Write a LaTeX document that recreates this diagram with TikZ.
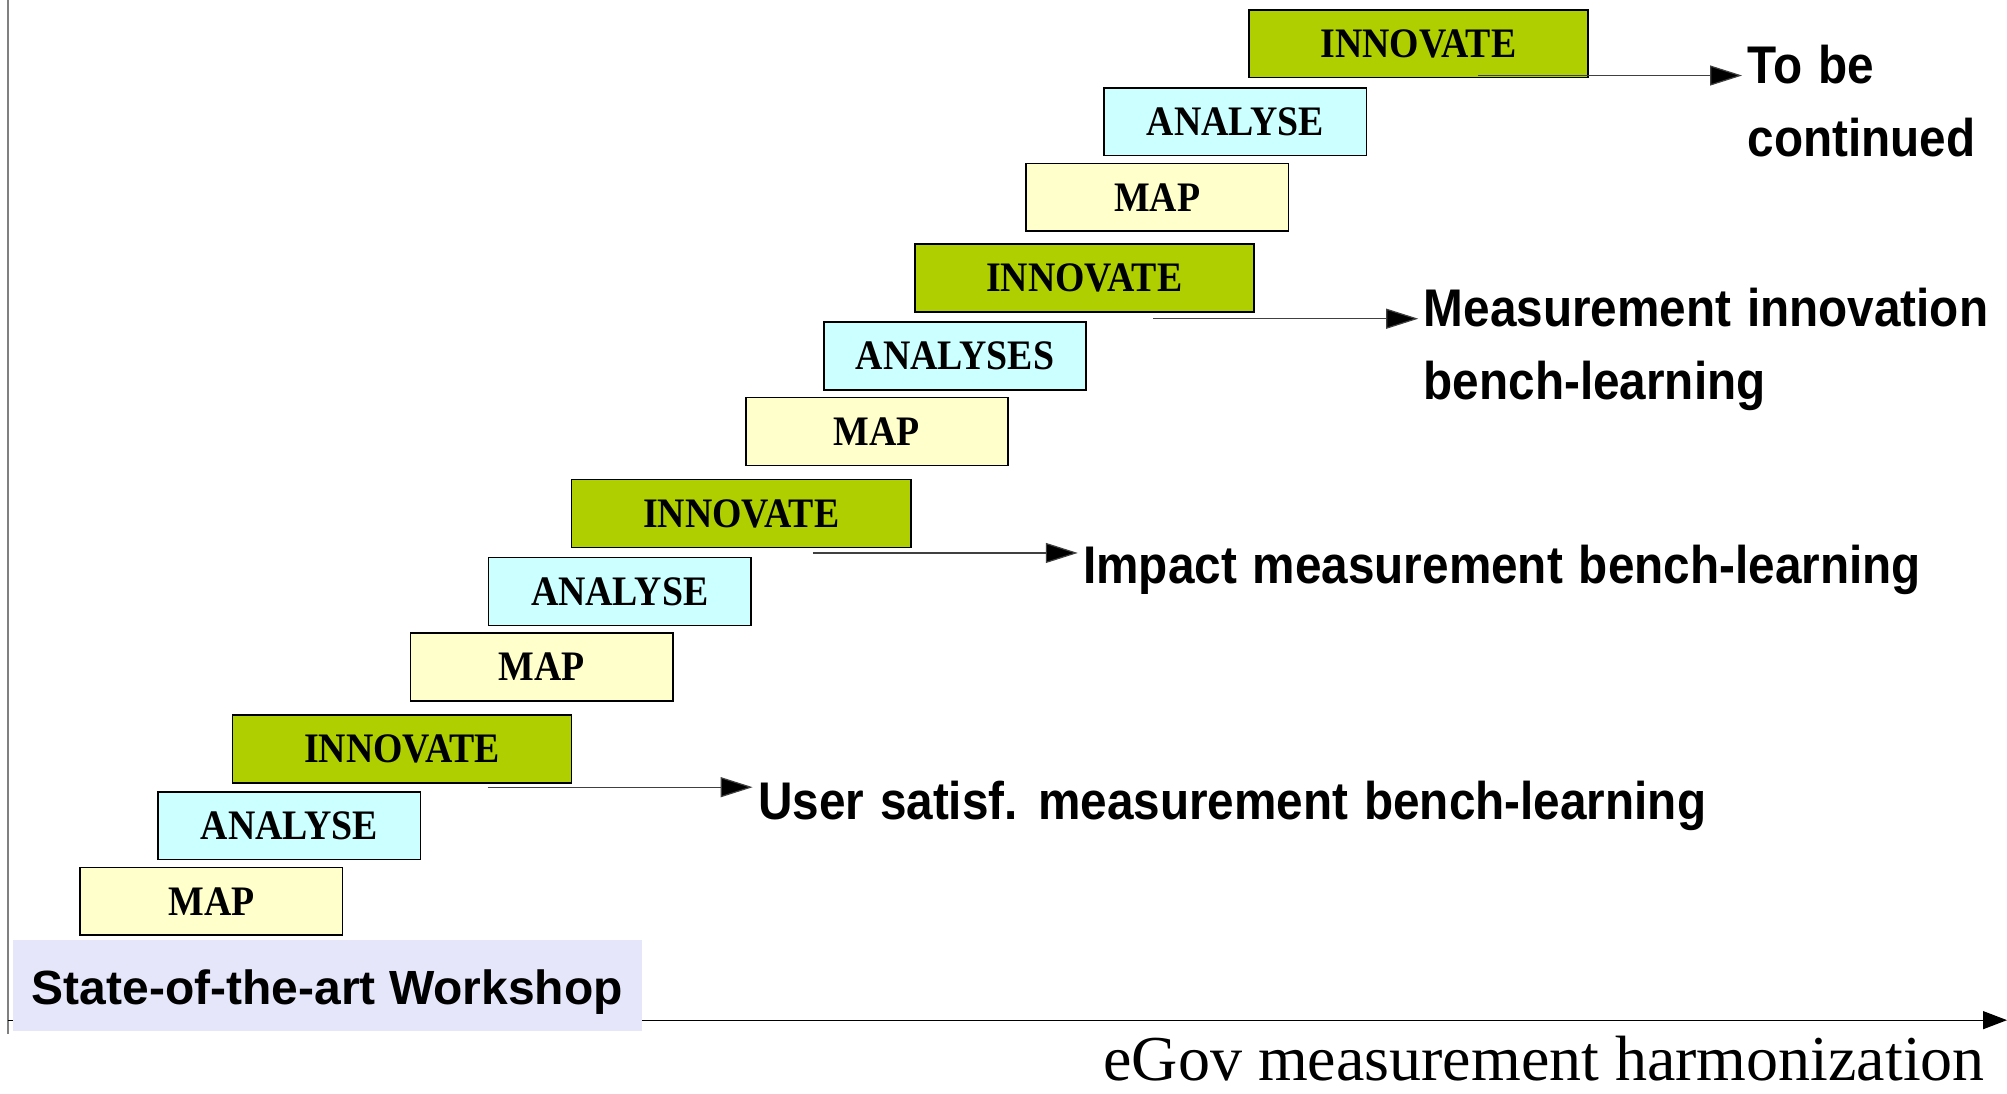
\documentclass[tikz,border=0pt]{standalone}
\usepackage{fontspec}
\setmainfont{Liberation Serif}
\setsansfont{Liberation Sans}
\newfontfamily\boxfont[FakeStretch=0.9]{Liberation Serif}
\newfontfamily\lblfont[FakeStretch=0.9,WordSpace=1.2]{Liberation Sans}
\usetikzlibrary{arrows.meta}
\definecolor{mapc}{HTML}{FFFFCC}
\definecolor{anac}{HTML}{CCFFFF}
\definecolor{innc}{HTML}{AFCF00}
\definecolor{wsc}{HTML}{E6E6FA}
\begin{document}
\begin{tikzpicture}[x=0.64pt,y=-0.64pt,
  stage/.style={draw=black,line width=0.8pt,anchor=north west,inner sep=0pt,
    minimum height=33.9pt,font=\boxfont\fontsize{21}{21}\selectfont\bfseries},
  mapbox/.style={stage,fill=mapc,minimum width=131.2pt},
  anabox/.style={stage,fill=anac,minimum width=131.2pt},
  innbox/.style={stage,fill=innc,minimum width=169.6pt},
  lbl/.style={anchor=base west,inner sep=0pt,font=\lblfont\bfseries\fontsize{26.5}{26.5}\selectfont},
  conn/.style={draw=black!75,line width=0.6pt,-{Triangle[length=16pt,width=10pt,fill=black]},shorten >=2.56pt}
]
\useasboundingbox (0,0) rectangle (1568,854);
% axes
\coordinate (ytop) at (6,0);
\coordinate (ybot) at (6,808);
\coordinate (xo) at (6,797);
\coordinate (xend) at (1568,797);
\draw[black!50,line width=1pt] (ytop) -- (ybot);
\draw[black,line width=0.6pt,-{Triangle[length=12pt,width=9pt]}] (xo) -- (xend);
\node[fill=wsc,anchor=north west,inner sep=0pt,minimum width=314.2pt,minimum height=45.4pt,
  text height=19pt,text depth=0pt,
  font=\sffamily\bfseries\fontsize{24}{24}\selectfont] (ws) at (10,734) {State-of-the-art Workshop};
\node[anchor=base east,inner sep=0pt,font=\fontsize{32}{32}\selectfont] (xl) at (1551,844) {eGov measurement harmonization};
% group 1
\node[mapbox] (m1) at (62,677) {MAP};
\node[anabox] (a1) at (123,618) {ANALYSE};
\node[innbox] (i1) at (181,558) {INNOVATE};
% group 2
\node[mapbox] (m2) at (320,494) {MAP};
\node[anabox] (a2) at (381,435) {ANALYSE};
\node[innbox] (i2) at (446,374) {INNOVATE};
% group 3
\node[mapbox] (m3) at (582,310) {MAP};
\node[anabox] (a3) at (643,251) {ANALYSES};
\node[innbox] (i3) at (714,190) {INNOVATE};
% group 4
\node[mapbox] (m4) at (801,127) {MAP};
\node[anabox] (a4) at (862,68) {ANALYSE};
\node[innbox] (i4) at (975,7) {INNOVATE};
% labels
\node[lbl] (l1) at (592,640) {User satisf. measurement bench-learning};
\node[lbl] (l2) at (846,456) {Impact measurement bench-learning};
\node[lbl] (l3) at (1112,255) {Measurement innovation};
\node[lbl] (l3b) at (1112,312) {bench-learning};
\node[lbl] (l4) at (1365,65) {To be};
\node[lbl] (l4b) at (1365,122) {continued};
% arrows
\coordinate (s1) at (381,615);
\coordinate (s2) at (635,432);
\coordinate (s3) at (901,249);
\coordinate (s4) at (1155,59);
\draw[conn] (s1) -- (s1 -| l1.west);
\draw[conn] (s2) -- (s2 -| l2.west);
\draw[conn] (s3) -- (s3 -| l3.west);
\draw[conn] (s4) -- (s4 -| l4.west);
\end{tikzpicture}
\end{document}
